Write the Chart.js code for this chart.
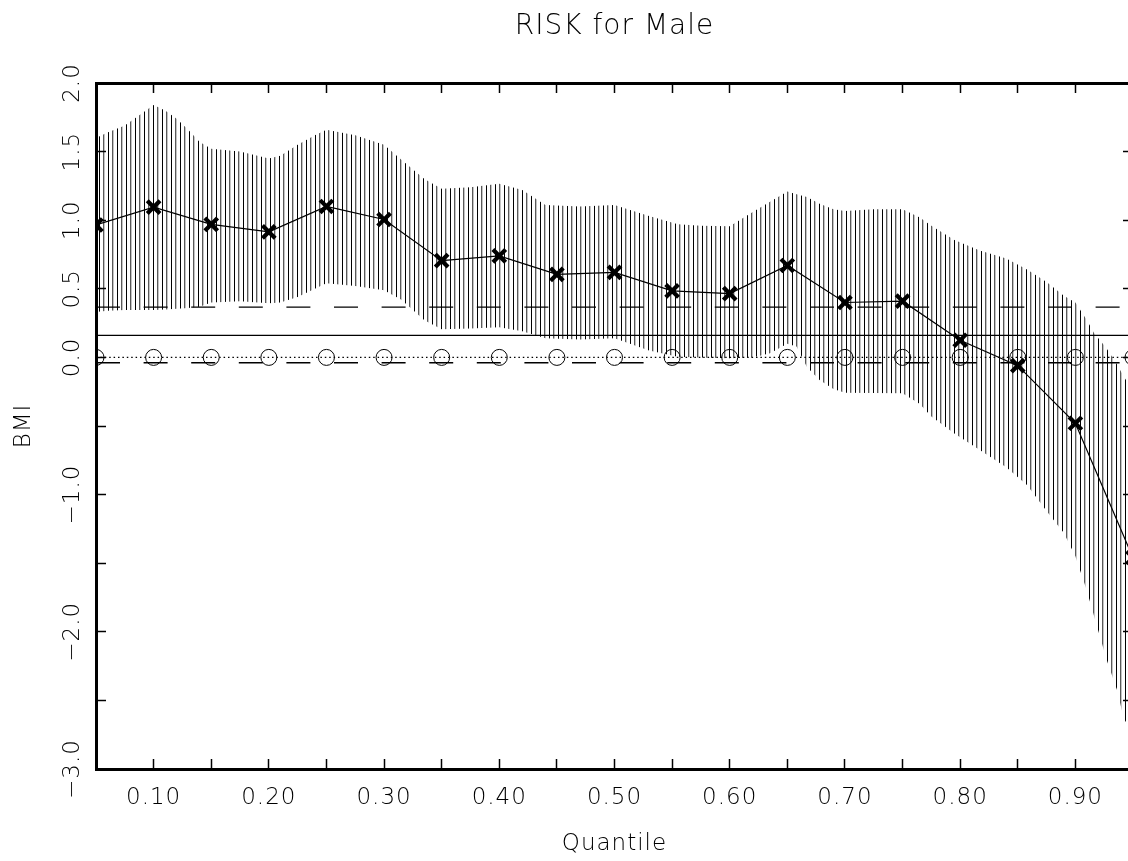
<!DOCTYPE html>
<html>
<head>
<meta charset="utf-8">
<script src="https://cdn.jsdelivr.net/npm/chart.js@4/dist/chart.umd.min.js"></script>
<style>
  html, body { margin: 0; padding: 0; background: #fff; overflow: hidden; }
  #wrap { width: 1170px; height: 861px; }
</style>
</head>
<body>
<div id="wrap"><canvas id="riskChart" width="1170" height="861"></canvas></div>
<script>
// quantile estimates (x markers)
const quantiles = [0.05, 0.10, 0.15, 0.20, 0.25, 0.30, 0.35, 0.40, 0.45, 0.50,
                   0.55, 0.60, 0.65, 0.70, 0.75, 0.80, 0.85, 0.90, 0.95];
const estimates = [0.965, 1.095, 0.97, 0.915, 1.10, 1.005, 0.705, 0.74, 0.605, 0.62,
                   0.485, 0.465, 0.67, 0.40, 0.41, 0.125, -0.06, -0.48, -1.46];

// confidence band (hatched area)
const bandQ = [0.05, 0.06, 0.075, 0.09, 0.10, 0.11, 0.12, 0.13, 0.14, 0.15,
               0.175, 0.20, 0.21, 0.225, 0.24, 0.25, 0.275, 0.30, 0.315, 0.335,
               0.35, 0.375, 0.40, 0.42, 0.44, 0.47, 0.50, 0.53, 0.555, 0.575,
               0.60, 0.62, 0.635, 0.65, 0.658, 0.667, 0.678, 0.69, 0.70, 0.725,
               0.75, 0.765, 0.775, 0.795, 0.817, 0.84, 0.858, 0.875, 0.89, 0.90,
               0.91, 0.916, 0.927, 0.936, 0.942, 0.95];
const bandUpper = [1.60, 1.64, 1.69, 1.78, 1.84, 1.80, 1.74, 1.66, 1.57, 1.52,
                   1.50, 1.45, 1.47, 1.55, 1.62, 1.66, 1.62, 1.55, 1.44, 1.30,
                   1.23, 1.24, 1.265, 1.22, 1.11, 1.10, 1.11, 1.03, 0.97, 0.96,
                   0.955, 1.06, 1.135, 1.21, 1.19, 1.17, 1.12, 1.08, 1.067, 1.08,
                   1.079, 1.02, 0.96, 0.855, 0.78, 0.72, 0.64, 0.55, 0.45, 0.40,
                   0.27, 0.18, 0.066, -0.05, -0.14, -0.25];
const bandLower = [0.33, 0.34, 0.345, 0.345, 0.345, 0.35, 0.355, 0.36, 0.37, 0.40,
                   0.41, 0.395, 0.40, 0.44, 0.50, 0.54, 0.52, 0.49, 0.42, 0.27,
                   0.205, 0.21, 0.22, 0.19, 0.14, 0.13, 0.14, 0.05, 0.005, 0.0,
                   -0.007, 0.0, 0.03, 0.10, 0.08, -0.07, -0.165, -0.23, -0.257, -0.26,
                   -0.262, -0.34, -0.43, -0.555, -0.675, -0.80, -0.93, -1.12, -1.28, -1.45,
                   -1.70, -1.88, -2.20, -2.42, -2.63, -2.75];

// OLS estimate and its limits (horizontal lines)
const olsRange = [0.05, 0.95];
const olsEstimate = [0.161, 0.161];
const olsUpper = [0.367, 0.367];
const olsLower = [-0.039, -0.039];

// tick labels
const xLabelValues = [0.10, 0.20, 0.30, 0.40, 0.50, 0.60, 0.70, 0.80, 0.90];
const xTickLabels = ['0.10', '0.20', '0.30', '0.40', '0.50', '0.60', '0.70', '0.80', '0.90'];
const yLabelValues = [2.0, 1.5, 1.0, 0.5, 0.0, -1.0, -2.0, -3.0];
const yTickLabels = ['2.0', '1.5', '1.0', '0.5', '0.0', '\u22121.0', '\u22122.0', '\u22123.0'];

const FONT = "'DejaVu Sans', 'Liberation Sans', sans-serif";

function pts(xs, ys) {
    return xs.map((x, i) => ({x: x, y: ys[i]}));
}

function pickLabel(values, labels, v) {
    const i = values.findIndex(t => Math.abs(t - v) < 1e-6);
    return i >= 0 ? labels[i] : '';
}

function hatch(ctx) {
    const c = document.createElement('canvas');
    c.width = 9;
    c.height = 4;
    const g = c.getContext('2d');
    g.fillStyle = '#000';
    g.fillRect(0, 0, 1, 4);
    g.fillStyle = '#5a5a5a';
    g.fillRect(4, 0, 1, 4);
    g.fillStyle = '#c4c4c4';
    g.fillRect(5, 0, 1, 4);
    return ctx.createPattern(c, 'repeat');
}

const spacing = {
    id: 'spacing',
    beforeLayout(chart) { chart.ctx.letterSpacing = '1px'; },
    beforeDraw(chart) { chart.ctx.letterSpacing = '1px'; }
};

document.addEventListener('DOMContentLoaded', () => {
    const canvas = document.getElementById('riskChart');
    const ctx = canvas.getContext('2d');

    const tickGrid = {
        drawOnChartArea: false,
        drawTicks: true,
        tickLength: -10,
        tickWidth: 1.5,
        tickColor: '#000',
        z: 1
    };
    const frame = {display: true, color: '#000', width: 3, z: 1};

    new Chart(canvas, {
        type: 'line',
        data: {
            datasets: [
                {
                    label: 'band upper',
                    data: pts(bandQ, bandUpper),
                    borderColor: 'transparent',
                    backgroundColor: hatch(ctx),
                    borderWidth: 0,
                    pointRadius: 0,
                    fill: '+1',
                    order: 10
                },
                {
                    label: 'band lower',
                    data: pts(bandQ, bandLower),
                    borderColor: 'transparent',
                    borderWidth: 0,
                    pointRadius: 0,
                    fill: false,
                    order: 9
                },
                {
                    label: 'OLS upper',
                    data: pts(olsRange, olsUpper),
                    borderColor: '#000',
                    borderWidth: 1.3,
                    borderDash: [24, 23.6],
                    pointRadius: 0,
                    order: 5
                },
                {
                    label: 'OLS lower',
                    data: pts(olsRange, olsLower),
                    borderColor: '#000',
                    borderWidth: 1.3,
                    borderDash: [24, 23.6],
                    pointRadius: 0,
                    order: 5
                },
                {
                    label: 'OLS',
                    data: pts(olsRange, olsEstimate),
                    borderColor: '#000',
                    borderWidth: 1.3,
                    pointRadius: 0,
                    order: 5
                },
                {
                    label: 'zero',
                    data: pts(quantiles, quantiles.map(() => 0)),
                    borderColor: '#000',
                    borderWidth: 1.3,
                    borderDash: [1.5, 2.9],
                    pointStyle: 'circle',
                    pointRadius: 8,
                    pointBorderWidth: 1,
                    pointBorderColor: '#000',
                    pointBackgroundColor: 'transparent',
                    order: 4
                },
                {
                    label: 'estimate',
                    data: pts(quantiles, estimates),
                    borderColor: '#000',
                    borderWidth: 1.2,
                    pointStyle: 'crossRot',
                    pointRadius: 9,
                    pointBorderWidth: 4.2,
                    pointBorderColor: '#000',
                    order: 1
                }
            ]
        },
        options: {
            responsive: false,
            animation: false,
            devicePixelRatio: 1,
            events: [],
            clip: 0,
            datasets: {line: {tension: 0, clip: 0}},
            layout: {padding: 0},
            scales: {
                x: {
                    type: 'linear',
                    position: 'bottom',
                    min: 0.05,
                    max: 0.95,
                    afterFit: s => { s.height = 92; },
                    grid: tickGrid,
                    border: frame,
                    ticks: {
                        stepSize: 0.05,
                        maxTicksLimit: 100,
                        autoSkip: false,
                        maxRotation: 0,
                        padding: 25.7,
                        color: '#000',
                        font: {family: FONT, size: 23, weight: '200'},
                        callback: v => pickLabel(xLabelValues, xTickLabels, v)
                    },
                    title: {
                        display: true,
                        text: 'Quantile',
                        color: '#000',
                        padding: {top: 0, bottom: 3},
                        font: {family: FONT, size: 23, weight: '200'}
                    }
                },
                x2: {
                    type: 'linear',
                    position: 'top',
                    min: 0.05,
                    max: 0.95,
                    afterFit: s => { s.height = 39.4; },
                    grid: tickGrid,
                    border: frame,
                    ticks: {stepSize: 0.05, maxTicksLimit: 100, display: false}
                },
                y: {
                    type: 'linear',
                    position: 'left',
                    min: -3,
                    max: 2,
                    afterFit: s => { s.width = 96; },
                    grid: tickGrid,
                    border: frame,
                    ticks: {
                        stepSize: 0.5,
                        maxTicksLimit: 100,
                        autoSkip: false,
                        minRotation: 90,
                        maxRotation: 90,
                        crossAlign: 'center',
                        padding: 3,
                        color: '#000',
                        font: {family: FONT, size: 23, weight: '200'},
                        callback: v => pickLabel(yLabelValues, yTickLabels, v)
                    },
                    title: {
                        display: true,
                        text: 'BMI',
                        color: '#000',
                        padding: {top: 10.7, bottom: 0},
                        font: {family: FONT, size: 23, weight: '200'}
                    }
                },
                y2: {
                    type: 'linear',
                    position: 'right',
                    min: -3,
                    max: 2,
                    afterFit: s => { s.width = 37; },
                    grid: tickGrid,
                    border: frame,
                    ticks: {stepSize: 0.5, maxTicksLimit: 100, display: false}
                }
            },
            plugins: {
                legend: {display: false},
                tooltip: {enabled: false},
                filler: {drawTime: 'beforeDatasetsDraw'},
                title: {
                    display: true,
                    text: 'RISK for Male',
                    color: '#000',
                    fullSize: false,
                    padding: {top: 10, bottom: 0},
                    font: {family: FONT, size: 28, weight: '200'}
                }
            }
        },
        plugins: [spacing]
    });
});
</script>
</body>
</html>
